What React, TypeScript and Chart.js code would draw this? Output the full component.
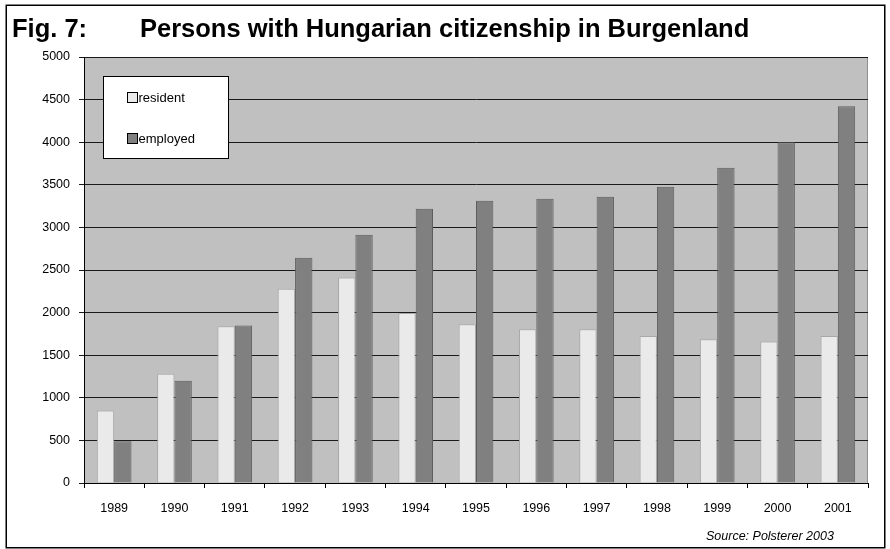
import React, { useEffect, useRef } from 'react';
import { Chart, registerables } from 'chart.js';

Chart.register(...registerables);

// ---- data ----
const years = ['1989', '1990', '1991', '1992', '1993', '1994', '1995', '1996', '1997', '1998', '1999', '2000', '2001'];
const resident = [851, 1281, 1840, 2281, 2411, 1995, 1864, 1805, 1805, 1724, 1688, 1660, 1724];
const employed = [490, 1199, 1850, 2645, 2915, 3219, 3313, 3336, 3359, 3477, 3699, 4000, 4422];
const yMin = 0;
const yMax = 5000;
const yStep = 500;
const seriesNames = ['resident', 'employed'];
const figLabel = 'Fig. 7:';
const titleText = 'Persons with Hungarian citizenship in Burgenland';
const sourceText = 'Source: Polsterer 2003';

const FONT = '"Liberation Sans", Arial, sans-serif';
const residentFill = '#eaeaea';
const employedFill = '#808080';

const decorPlugin = {
  id: 'decor',
  beforeDraw(chart: any) {
    const { ctx, chartArea: a, width, height } = chart;
    ctx.save();
    ctx.fillStyle = '#ffffff';
    ctx.fillRect(0, 0, width, height);
    // outer frame
    ctx.strokeStyle = '#000';
    ctx.lineWidth = 1.5;
    ctx.strokeRect(6.25, 5.25, 878.5, 542.5);
    // plot background
    ctx.fillStyle = '#c0c0c0';
    ctx.fillRect(a.left, a.top, a.right - a.left, a.bottom - a.top);
    ctx.strokeStyle = '#909090';
    ctx.lineWidth = 1;
    ctx.strokeRect(a.left + 0.5, a.top + 0.5, a.right - a.left - 1, a.bottom - a.top);
    ctx.restore();
  },
  afterDraw(chart: any) {
    const { ctx } = chart;
    ctx.save();
    // title
    ctx.fillStyle = '#000';
    ctx.font = `bold 25.5px ${FONT}`;
    ctx.textBaseline = 'alphabetic';
    ctx.textAlign = 'left';
    ctx.fillText(figLabel, 12, 37);
    ctx.fillText(titleText, 140, 37);
    // legend
    ctx.fillStyle = '#fff';
    ctx.fillRect(103.5, 76.5, 125, 82);
    ctx.strokeStyle = '#000';
    ctx.lineWidth = 1;
    ctx.strokeRect(103.5, 76.5, 125, 82);
    const fills = [residentFill, employedFill];
    const ys = [92.5, 133.5];
    ctx.font = `13px ${FONT}`;
    ctx.textBaseline = 'middle';
    seriesNames.forEach((n, i) => {
      ctx.fillStyle = fills[i];
      ctx.fillRect(127.5, ys[i], 10, 10);
      ctx.strokeStyle = '#000';
      ctx.strokeRect(127.5, ys[i], 10, 10);
      ctx.fillStyle = '#000';
      ctx.fillText(n, 138.5, ys[i] + 5.5);
    });
    // source
    ctx.font = `italic 12.5px ${FONT}`;
    ctx.textBaseline = 'middle';
    ctx.fillText(sourceText, 706, 537);
    ctx.restore();
  },
};

export default function App() {
  const ref = useRef<HTMLCanvasElement>(null);
  useEffect(() => {
    if (!ref.current) return;
    const chart = new Chart(ref.current, {
      type: 'bar',
      data: {
        labels: years,
        datasets: [
          {
            label: seriesNames[0],
            data: resident,
            backgroundColor: residentFill,
            borderColor: '#a8a8a8',
            borderWidth: 1,
            barPercentage: 1,
            categoryPercentage: 0.575,
          },
          {
            label: seriesNames[1],
            data: employed,
            backgroundColor: employedFill,
            borderColor: '#5c5c5c',
            borderWidth: 1,
            barPercentage: 1,
            categoryPercentage: 0.575,
          },
        ],
      },
      options: {
        animation: false,
        responsive: false,
        devicePixelRatio: 1,
        layout: { padding: { top: 57, right: 22, left: 0, bottom: 0 } },
        plugins: { legend: { display: false }, tooltip: { enabled: false }, title: { display: false } },
        scales: {
          x: {
            grid: { display: true, drawOnChartArea: false, drawTicks: true, tickLength: 5, color: '#000', offset: true },
            border: { color: '#000', width: 1 },
            ticks: { color: '#000', font: { family: FONT, size: 12.5 }, padding: 13, maxRotation: 0, autoSkip: false },
            afterFit: (s: any) => { s.height = 66; },
          },
          y: {
            min: yMin,
            max: yMax,
            ticks: {
              stepSize: yStep,
              color: '#000',
              font: { family: FONT, size: 12.5 },
              padding: 9,
              callback: (v: any) => String(v),
            },
            grid: { color: '#1a1a1a', tickLength: 5, lineWidth: 1 },
            border: { color: '#000', width: 1 },
            afterFit: (s: any) => { s.width = 84; },
          },
        },
      },
      plugins: [decorPlugin],
    });
    return () => chart.destroy();
  }, []);
  return (
    <div style={{ position: 'absolute', left: 0, top: 0, width: 890, height: 549, background: '#fff' }}>
      <canvas ref={ref} width={890} height={549} style={{ display: 'block' }} />
    </div>
  );
}
